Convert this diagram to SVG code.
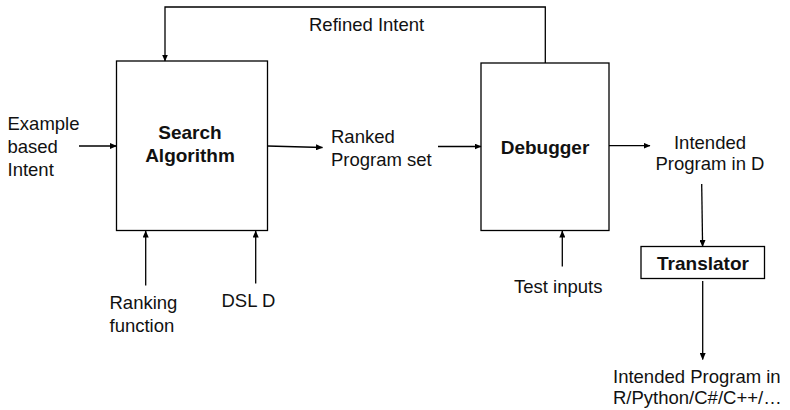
<svg xmlns="http://www.w3.org/2000/svg" width="790" height="410" viewBox="0 0 790 410">
<style>
.box{fill:#fff;stroke:#000;stroke-width:1.3}
.t{font-family:"Liberation Sans",Arial,sans-serif;font-size:18.5px;fill:#111}
.b{font-family:"Liberation Sans",Arial,sans-serif;font-size:19px;font-weight:bold;fill:#111;text-anchor:middle}
.c{fill:none;stroke:#000;stroke-width:1.3;marker-end:url(#ah)}
</style>
<defs>
<marker id="ah" markerWidth="7" markerHeight="6" refX="6.5" refY="3" orient="auto" markerUnits="userSpaceOnUse">
<path d="M0,0 L7,3 L0,6 Z" fill="#000"/>
</marker>
</defs>
<rect width="790" height="410" fill="#fff"/>
<g id="search">
<rect class="box" x="116.5" y="61" width="151" height="169.5"/>
<text class="b" x="190" y="139">Search</text>
<text class="b" x="190" y="162">Algorithm</text>
</g>
<g id="debugger">
<rect class="box" x="481" y="63" width="128" height="167.5"/>
<text class="b" x="545" y="154">Debugger</text>
</g>
<g id="translator">
<rect class="box" x="641" y="246.5" width="123.5" height="32"/>
<text class="b" x="703" y="270">Translator</text>
</g>
<g id="labels">
<text class="t" x="7.5" y="129.5">Example</text>
<text class="t" x="7.5" y="152.5">based</text>
<text class="t" x="7.5" y="175.5">Intent</text>
<text class="t" x="309" y="31">Refined Intent</text>
<text class="t" x="331" y="143">Ranked</text>
<text class="t" x="331" y="165.5">Program set</text>
<text class="t" x="710" y="149" text-anchor="middle">Intended</text>
<text class="t" x="710" y="170" text-anchor="middle">Program in D</text>
<text class="t" x="109.5" y="308.5">Ranking</text>
<text class="t" x="109.5" y="331.5">function</text>
<text class="t" x="221.5" y="306.5">DSL D</text>
<text class="t" x="514" y="292.5">Test inputs</text>
<text class="t" x="613" y="383">Intended Program in</text>
<text class="t" x="613" y="404">R/Python/C#/C++/…</text>
</g>
<g id="connectors">
<path class="c" d="M545.3,63 V7 H165 V61"/>
<path class="c" d="M79,146 H116.5"/>
<path class="c" d="M267.5,146 L322.5,147.5"/>
<path class="c" d="M438,146.5 H481"/>
<path class="c" d="M609,145.7 H650"/>
<path class="c" d="M701.7,184 L702.6,246.5"/>
<path class="c" d="M702.7,281 V359.5"/>
<path class="c" d="M145.7,285.5 V231"/>
<path class="c" d="M255.7,283.5 V231"/>
<path class="c" d="M562.3,266.5 V231"/>
</g>
</svg>
